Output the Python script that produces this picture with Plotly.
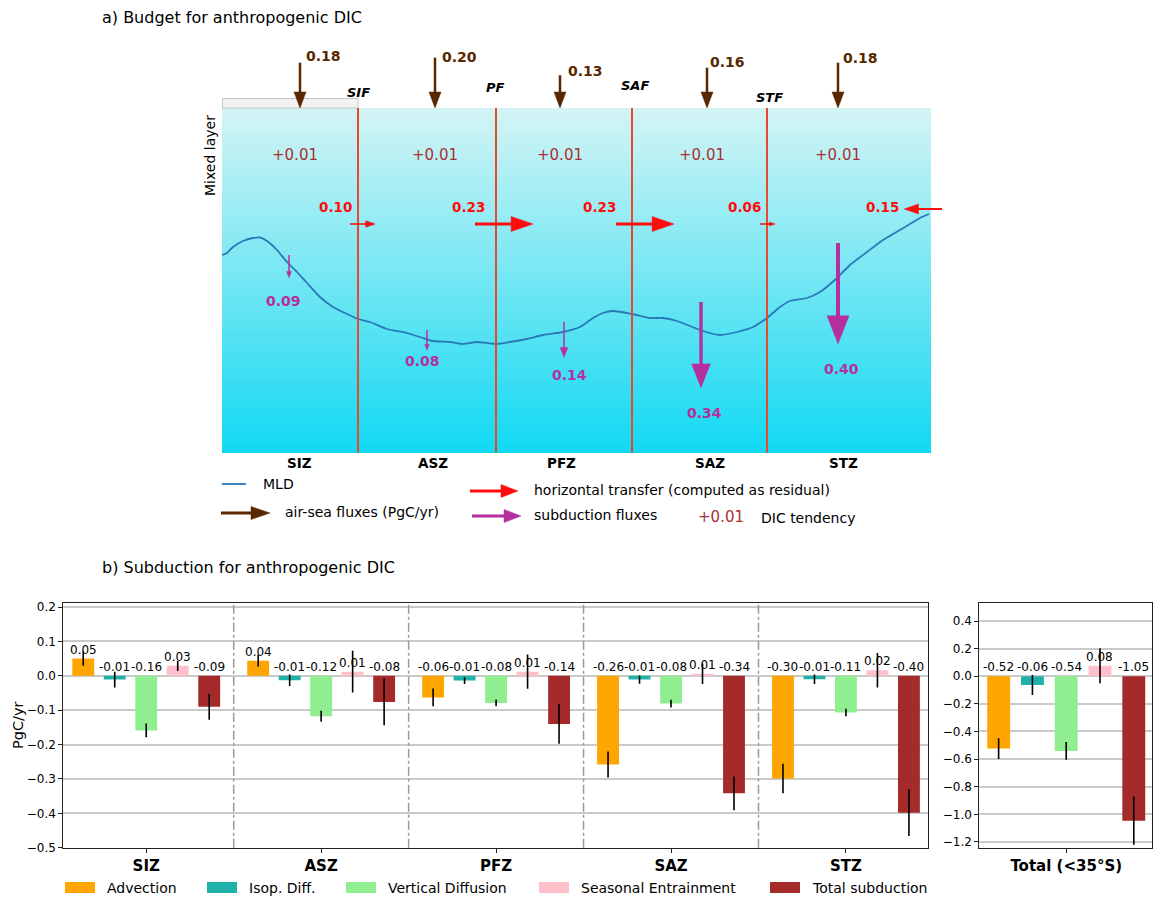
import math
import numpy as np
import plotly.graph_objects as go

W, H = 1155, 899
FONT = "DejaVu Sans"

# ---------------- data: panel b (subduction, PgC/yr) ----------------
zones = ["SIZ", "ASZ", "PFZ", "SAZ", "STZ"]
series_names = ["Advection", "Isop. Diff.", "Vertical Diffusion", "Seasonal Entrainment", "Total subduction"]
series_colors = ["#FFA500", "#20B2AA", "#90EE90", "#FFC0CB", "#A52A2A"]

advection = [0.050, 0.044, -0.063, -0.258, -0.299]
isop_diff = [-0.011, -0.013, -0.014, -0.011, -0.010]
vertical_diff = [-0.159, -0.118, -0.079, -0.081, -0.107]
seasonal_entr = [0.029, 0.012, 0.012, 0.006, 0.016]
total_subd = [-0.090, -0.076, -0.140, -0.342, -0.398]

advection_err = [0.021, 0.017, 0.026, 0.038, 0.043]
isop_diff_err = [0.023, 0.017, 0.010, 0.012, 0.014]
vertical_diff_err = [0.020, 0.016, 0.010, 0.011, 0.011]
seasonal_entr_err = [0.015, 0.061, 0.050, 0.030, 0.050]
total_subd_err = [0.038, 0.068, 0.058, 0.049, 0.068]

total_label = "Total (<35°S)"
total_vals = [-0.524, -0.063, -0.541, 0.076, -1.046]
total_errs = [0.075, 0.073, 0.064, 0.127, 0.175]

# ---------------- data: panel a (budget, PgC/yr) ----------------
airsea_flux = [0.18, 0.20, 0.13, 0.16, 0.18]
dic_tendency = [0.01, 0.01, 0.01, 0.01, 0.01]
horiz_flux = [0.10, 0.23, 0.23, 0.06, 0.15]
horiz_dir = [1, 1, 1, 1, -1]
subd_flux = [0.09, 0.08, 0.14, 0.34, 0.40]
front_names = ["SIF", "PF", "SAF", "STF"]

# MLD schematic curve (diagram pixel coordinates)
mld_x = [222, 227, 233, 243, 253, 260, 267, 277, 287, 297, 307, 320, 333, 347, 358, 370, 387, 407, 420,
         433, 450, 463, 477, 487, 497, 510, 527, 543, 563, 580, 593, 603, 613, 632, 650, 663, 677, 690, 703,
         720, 737, 753, 767, 780, 790, 807, 820, 837, 850, 867, 883, 900, 920, 929]
mld_y = [255, 253, 247, 241, 238, 237.5, 241, 250, 262, 272, 283, 297, 307, 314, 319, 322, 329, 333, 337,
         341, 342, 344, 342, 343, 344, 342, 339, 335, 332, 327, 318, 313, 311, 314, 318, 318, 321, 326, 331,
         335, 332, 327, 318, 307, 301, 298, 292, 278, 265, 252, 240, 230, 218, 214]

# ---------------- diagram geometry (pixels) ----------------
BOX_X0, BOX_X1, BOX_Y0, BOX_Y1 = 222, 930.5, 108, 452.5
PX_PER_FLUX = 252.0

fig = go.Figure()

# gradient background of the mixed-layer box
N = 80
edges = np.linspace(BOX_Y0, BOX_Y1, N + 1)
fig.add_trace(go.Heatmap(
    z=[[k] for k in range(N)], x=[BOX_X0, BOX_X1], y=edges,
    colorscale=[[0, "#d3f4f4"], [1, "#12d9f3"]], showscale=False,
    hoverinfo="skip", zsmooth=False, xaxis="x", yaxis="y"))

# MLD line
fig.add_trace(go.Scatter(x=mld_x, y=mld_y, mode="lines",
                         line=dict(color="#2a78b8", width=1.8, shape="spline", smoothing=0.6),
                         hoverinfo="skip", showlegend=False, xaxis="x", yaxis="y"))
# legend line for MLD
fig.add_trace(go.Scatter(x=[222, 246], y=[484, 484], mode="lines", line=dict(color="#2a78b8", width=1.8),
                         hoverinfo="skip", showlegend=False, xaxis="x", yaxis="y"))

shapes = []
annotations = []


def arrow(x0, y0, x1, y1, color, shaft_w, head_len, head_w):
    dx, dy = x1 - x0, y1 - y0
    L = math.hypot(dx, dy)
    ux, uy = dx / L, dy / L
    bx, by = x1 - ux * head_len, y1 - uy * head_len
    px, py = -uy, ux
    shapes.append(dict(type="line", xref="x", yref="y", x0=x0, y0=y0, x1=bx + ux * 0.5, y1=by + uy * 0.5,
                       line=dict(color=color, width=shaft_w)))
    path = "M {:.2f},{:.2f} L {:.2f},{:.2f} L {:.2f},{:.2f} Z".format(
        x1, y1, bx + px * head_w / 2, by + py * head_w / 2, bx - px * head_w / 2, by - py * head_w / 2)
    shapes.append(dict(type="path", xref="x", yref="y", path=path, fillcolor=color,
                       line=dict(color=color, width=0.5)))


def text(x, y, s, size, color="black", xanchor="center", bold=False, italic=False, angle=0, xref="x", yref="y"):
    if italic:
        s = "<i>" + s + "</i>"
    if bold:
        s = "<b>" + s + "</b>"
    annotations.append(dict(x=x, y=y, xref=xref, yref=yref, text=s, showarrow=False,
                            xanchor=xanchor, yanchor="middle", textangle=angle,
                            font=dict(family=FONT, size=size, color=color)))


BROWN = "#5a2800"
RED = "#ff0d0d"
MAG = "#b5309e"
TEND = "#a83232"
FRONT = "#e64a2e"

# small grey box top-left
shapes.append(dict(type="rect", xref="x", yref="y", x0=222.5, x1=358, y0=98.5, y1=108,
                   fillcolor="#f3f3f3", line=dict(color="#c4c4c4", width=1)))

# fronts
front_x = [358, 496, 632, 767]
front_lab = [(358, 92), (495, 87), (635, 85), (769, 97)]
for fx, (lx, ly), name in zip(front_x, front_lab, front_names):
    shapes.append(dict(type="line", xref="x", yref="y", x0=fx, x1=fx, y0=BOX_Y0, y1=BOX_Y1,
                       line=dict(color=FRONT, width=2)))
    text(lx, ly, name, 13, bold=True, italic=True)

# air-sea fluxes
airsea_x = [300, 435, 560, 707, 838]
airsea_lab = [(323, 56), (459, 57), (585, 71), (727, 62), (860, 58)]
for v, ax_, (lx, ly) in zip(airsea_flux, airsea_x, airsea_lab):
    arrow(ax_, BOX_Y0 - v * PX_PER_FLUX, ax_, BOX_Y0, BROWN, 2.5, 16, 12)
    text(lx, ly, f"{v:.2f}", 14, color=BROWN, bold=True)

# DIC tendency
tend_x = [295, 435, 560, 702, 838]
for v, tx in zip(dic_tendency, tend_x):
    text(tx, 155, f"+{v:.2f}", 15, color=TEND)

# horizontal transfers
horiz_tail = [(350, 224), (475, 224), (616, 224), (760, 224), (942, 209)]
horiz_lab = [(335, 207), (468, 207), (599, 207), (744, 207), (882, 207)]
for v, d, (tx, ty), (lx, ly) in zip(horiz_flux, horiz_dir, horiz_tail, horiz_lab):
    arrow(tx, ty, tx + d * v * PX_PER_FLUX, ty, RED, max(1.5, 13 * v), 95 * v, 65 * v)
    text(lx, ly, f"{v:.2f}", 13.5, color=RED, bold=True)

# subduction fluxes
subd_x = [289, 427, 564, 701, 838]
subd_top = [255, 330, 322, 302, 243]
subd_lab = [(283, 301), (422, 361), (569, 375), (704, 413), (841, 369)]
for v, sx, st, (lx, ly) in zip(subd_flux, subd_x, subd_top, subd_lab):
    arrow(sx, st, sx, st + v * PX_PER_FLUX, MAG, max(1.5, 10 * v), 70 * v, 55 * v)
    text(lx, ly, f"{v:.2f}", 14, color=MAG, bold=True)

# zone labels under diagram
zone_lab_x = [299, 433, 561, 710, 843]
for z, zx in zip(zones, zone_lab_x):
    text(zx, 463, z, 13.5, bold=True)

text(210, 156, "Mixed layer", 14, angle=-90)
text(100, 17, "a) Budget for anthropogenic DIC", 16, xanchor="left")
text(100, 567, "b) Subduction for anthropogenic DIC", 16, xanchor="left")

# legend of panel a
text(261, 484, "MLD", 14, xanchor="left")
arrow(221, 513, 270, 513, BROWN, 3, 19, 13)
text(283, 512, "air-sea fluxes (PgC/yr)", 14, xanchor="left")
arrow(470, 491, 518, 491, RED, 3, 17, 13)
text(532, 490, "horizontal transfer (computed as residual)", 14, xanchor="left")
arrow(472, 516, 521, 516, MAG, 3, 17, 13)
text(532, 515, "subduction fluxes", 14, xanchor="left")
text(696, 517, "+0.01", 15, color=TEND, xanchor="left")
text(759, 518, "DIC tendency", 14, xanchor="left")

# ---------------- panel b bars ----------------
offsets = [-0.36, -0.18, 0.0, 0.18, 0.36]
BW = 0.125
vals = [advection, isop_diff, vertical_diff, seasonal_entr, total_subd]
errs = [advection_err, isop_diff_err, vertical_diff_err, seasonal_entr_err, total_subd_err]
for name, col, off, v, e in zip(series_names, series_colors, offsets, vals, errs):
    xs = [i + off for i in range(len(zones))]
    fig.add_trace(go.Bar(x=xs, y=v, width=BW, marker=dict(color=col, line=dict(width=0)), name=name,
                         error_y=dict(type="data", array=e, color="black", thickness=1.6, width=0),
                         showlegend=False, xaxis="x2", yaxis="y2"))
    for xx, yy in zip(xs, v):
        annotations.append(dict(x=xx, y=max(yy, 0), xref="x2", yref="y2", text=f"{yy:.2f}", showarrow=False,
                                xanchor="center", yanchor="bottom", yshift=0,
                                font=dict(family=FONT, size=12, color="black")))

BW2 = 0.122
for name, col, off, v, e in zip(series_names, series_colors, offsets, total_vals, total_errs):
    fig.add_trace(go.Bar(x=[off], y=[v], width=BW2, marker=dict(color=col, line=dict(width=0)), name=name,
                         error_y=dict(type="data", array=[e], color="black", thickness=1.6, width=0),
                         showlegend=False, xaxis="x3", yaxis="y3"))
    annotations.append(dict(x=off, y=max(v, 0), xref="x3", yref="y3", text=f"{v:.2f}", showarrow=False,
                            xanchor="center", yanchor="bottom", yshift=0,
                            font=dict(family=FONT, size=12, color="black")))

# group separators
for k in range(len(zones) - 1):
    shapes.append(dict(type="line", xref="x2", yref="y2 domain", x0=k + 0.5, x1=k + 0.5, y0=0, y1=1,
                       line=dict(color="#9a9a9a", width=1.5, dash="dashdot")))

# y label
text(18, 725, "PgC/yr", 14.5, angle=-90)

# manual legend for panel b
leg_x = [65, 207, 346, 539, 770]
for name, col, lx in zip(series_names, series_colors, leg_x):
    shapes.append(dict(type="rect", xref="x", yref="y", x0=lx, x1=lx + 30, y0=882, y1=893,
                       fillcolor=col, line=dict(width=0)))
    text(lx + 40, 888, name, 14, xanchor="left")

# ---------------- axes ----------------
def ydom(top, bottom):
    return [1 - bottom / H, 1 - top / H]

AX_TOP, AX_BOT = 602.7, 847.7
axis_common = dict(showline=True, linecolor="#222222", linewidth=1, mirror=True, ticks="outside",
                   ticklen=4, tickcolor="#222222", tickfont=dict(family=FONT, size=12, color="black"),
                   zeroline=False, fixedrange=True, automargin=False)

fig.update_layout(
    width=W, height=H, autosize=False,
    margin=dict(l=0, r=0, t=0, b=0, pad=0, autoexpand=False),
    paper_bgcolor="white", plot_bgcolor="white",
    barmode="overlay", showlegend=False,
    font=dict(family=FONT, color="black"),
    xaxis=dict(domain=[0, 1], range=[0, W], visible=False, fixedrange=True, automargin=False),
    yaxis=dict(domain=[0, 1], range=[H, 0], visible=False, fixedrange=True, automargin=False),
    xaxis2=dict(domain=[63.3 / W, 928 / W], range=[-0.474, 4.469], anchor="y2",
                tickvals=list(range(len(zones))), ticktext=[f"<b>{z}</b>" for z in zones],
                showgrid=False, **{**axis_common, "tickfont": dict(family=FONT, size=15, color="black")}),
    yaxis2=dict(domain=ydom(AX_TOP, AX_BOT), range=[-0.5, 0.2125], anchor="x2",
                tickvals=[-0.5, -0.4, -0.3, -0.2, -0.1, 0.0, 0.1, 0.2], tickformat=".1f",
                showgrid=True, gridcolor="#cacaca", gridwidth=1.5, **axis_common),
    xaxis3=dict(domain=[979.3 / W, 1152 / W], range=[-0.463, 0.457], anchor="y3",
                tickvals=[0], ticktext=[f"<b>{total_label}</b>"],
                showgrid=False, **{**axis_common, "tickfont": dict(family=FONT, size=15, color="black")}),
    yaxis3=dict(domain=ydom(AX_TOP, AX_BOT), range=[-1.242, 0.533], anchor="x3",
                tickvals=[-1.2, -1.0, -0.8, -0.6, -0.4, -0.2, 0.0, 0.2, 0.4], tickformat=".1f",
                showgrid=True, gridcolor="#cacaca", gridwidth=1.5, **axis_common),
    shapes=shapes, annotations=annotations,
)

fig.write_html("out.html", config={"displayModeBar": False},
               post_script="document.body.style.margin='0px';document.body.style.overflow='hidden';")
